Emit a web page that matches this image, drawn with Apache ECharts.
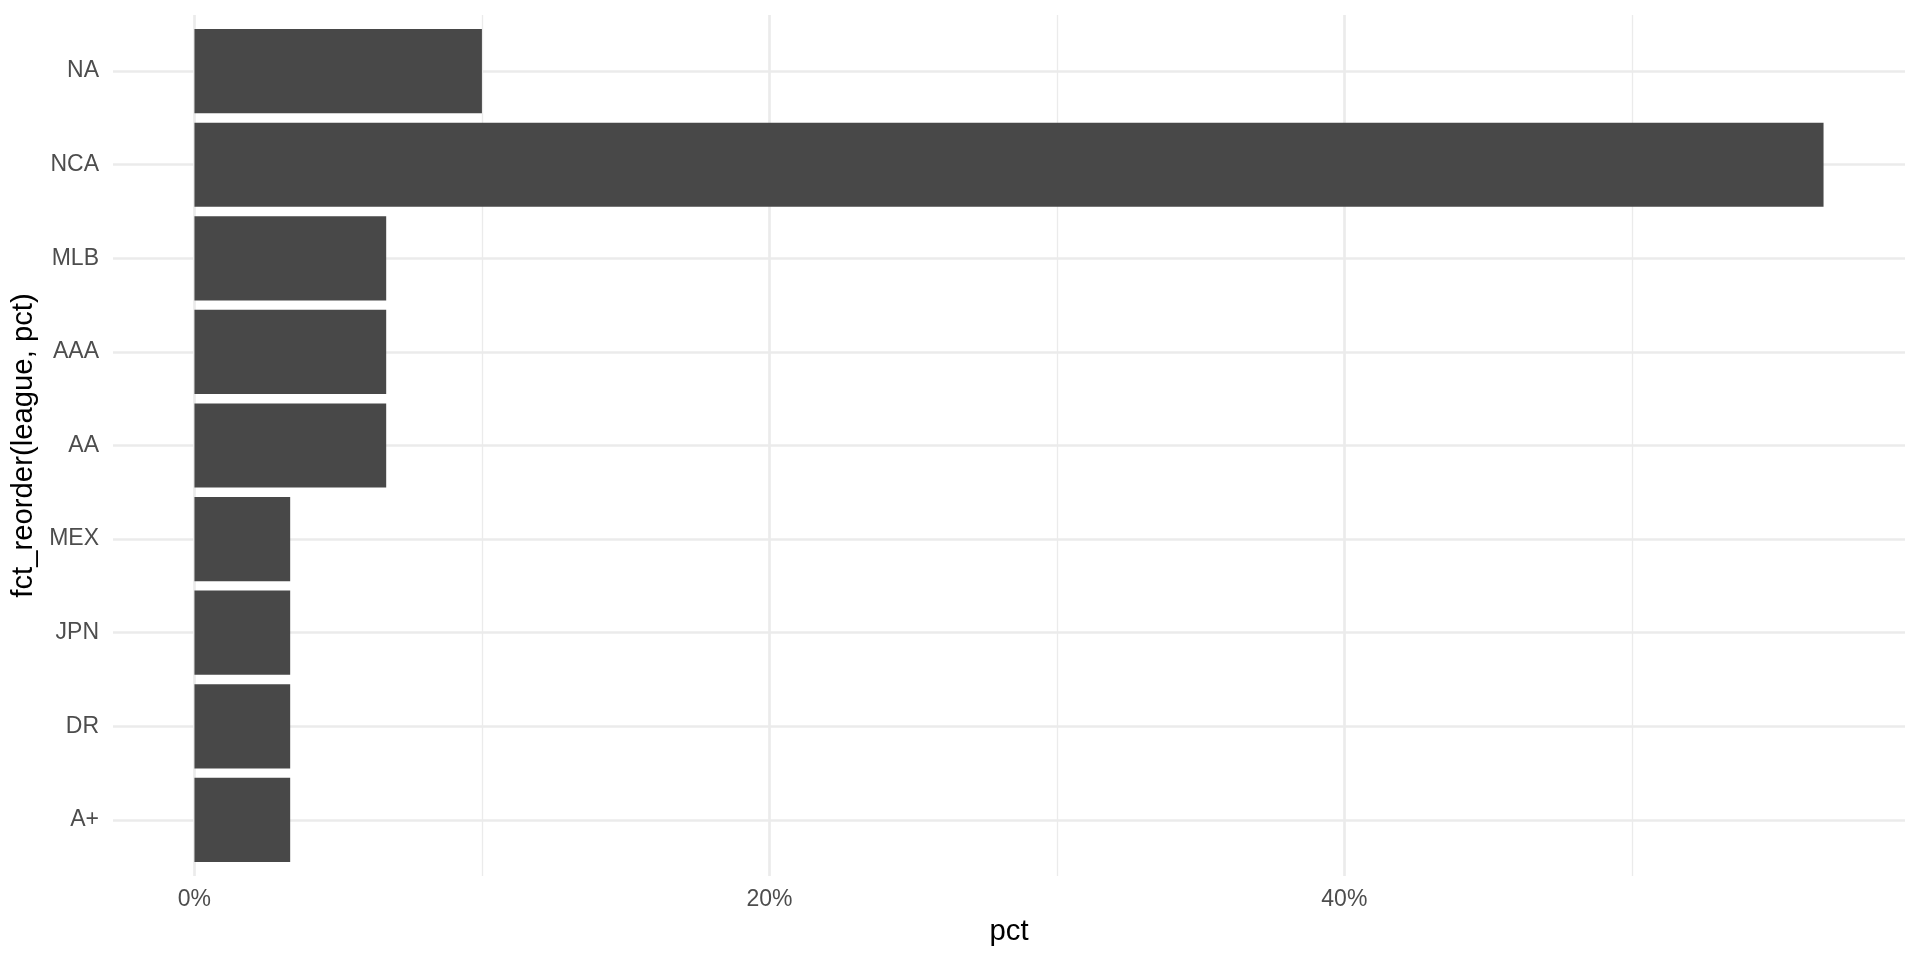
<!DOCTYPE html>
<html>
<head>
<meta charset="utf-8">
<script src="https://cdn.jsdelivr.net/npm/echarts@6/dist/echarts.min.js"></script>
<style>
  html, body { margin: 0; padding: 0; background: #ffffff; }
  #chart { width: 1920px; height: 960px; }
</style>
</head>
<body>
<div id="chart"></div>
<script>
// Categories listed top to bottom
const categories = ['NA', 'NCA', 'MLB', 'AAA', 'AA', 'MEX', 'JPN', 'DR', 'A+'];
// Percent values
const pctValues = [10, 56.67, 6.67, 6.67, 6.67, 3.33, 3.33, 3.33, 3.33];
const xTickValues = [0, 20, 40];
const xAxisTitle = 'pct';
const yAxisTitle = 'fct_reorder(league, pct)';

const FONT = '"Liberation Sans", Arial, Helvetica, sans-serif';
const GRID_COLOR = '#EBEBEB';
const MAJOR_W = 2.67;
const MINOR_W = 1.33;
const LABEL_SIZE = 23;
const TITLE_SIZE = 29.3;

// Panel geometry (ggplot-like expansion)
const panelTop = 15, panelBottom = 876, panelLeft = 113, panelRight = 1905;
const nCat = categories.length;
const band = (panelBottom - panelTop) / (nCat + 0.2);
const xMaxData = Math.max(...pctValues);
const pxPerUnit = (panelRight - panelLeft) / (1.1 * xMaxData);
const zeroX = panelLeft + 0.05 * xMaxData * pxPerUnit;
const axisMax = 60;
const rightEdge = zeroX + axisMax * pxPerUnit;

const chart = echarts.init(document.getElementById('chart'), null, { renderer: 'canvas' });

const option = {
  backgroundColor: '#ffffff',
  animation: false,
  grid: [
    // 0: horizontal gridlines at category centres, full panel width
    { left: panelLeft, right: 1920 - panelRight, top: panelTop + 0.6 * band, bottom: 960 - (panelBottom - 0.6 * band), containLabel: false },
    // 1: vertical gridlines + x labels, full panel height
    { left: zeroX, right: 1920 - rightEdge, top: panelTop, bottom: 960 - panelBottom, containLabel: false },
    // 2: bars
    { left: zeroX, right: 1920 - rightEdge, top: panelTop + 0.1 * band, bottom: 960 - (panelBottom - 0.1 * band), containLabel: false }
  ],
  xAxis: [
    {
      gridIndex: 0, type: 'value', min: 0, max: 1,
      name: xAxisTitle, nameLocation: 'middle', nameGap: 98,
      nameTextStyle: { fontFamily: FONT, fontSize: TITLE_SIZE, color: '#000000' },
      axisLine: { show: false }, axisTick: { show: false }, axisLabel: { show: false }, splitLine: { show: false }
    },
    {
      gridIndex: 1, type: 'value', min: 0, max: axisMax, interval: 20,
      axisLine: { show: false }, axisTick: { show: false },
      axisLabel: {
        show: true, margin: 12.5, color: '#4D4D4D', fontFamily: FONT, fontSize: LABEL_SIZE,
        showMaxLabel: false,
        formatter: function (v) { return xTickValues.indexOf(v) >= 0 ? v + '%' : ''; }
      },
      splitLine: { show: true, showMaxLine: false, lineStyle: { color: GRID_COLOR, width: MAJOR_W } },
      minorTick: { show: false, splitNumber: 2 },
      minorSplitLine: { show: true, lineStyle: { color: GRID_COLOR, width: MINOR_W } }
    },
    {
      gridIndex: 2, type: 'value', min: 0, max: axisMax, show: false,
      splitLine: { show: false }
    }
  ],
  yAxis: [
    {
      gridIndex: 0, type: 'value', min: 1, max: nCat, interval: 1,
      axisLine: { show: false }, axisTick: { show: false }, axisLabel: { show: false },
      splitLine: { show: true, lineStyle: { color: GRID_COLOR, width: MAJOR_W } }
    },
    {
      gridIndex: 1, type: 'value', show: false, splitLine: { show: false }
    },
    {
      gridIndex: 2, type: 'category', data: categories, inverse: true,
      name: yAxisTitle, nameLocation: 'middle', nameGap: 149, nameRotate: 90,
      nameTextStyle: { fontFamily: FONT, fontSize: TITLE_SIZE, color: '#000000' },
      axisLine: { show: false }, axisTick: { show: false },
      axisLabel: { margin: zeroX - 99, color: '#4D4D4D', fontFamily: FONT, fontSize: LABEL_SIZE, align: 'right' },
      splitLine: { show: false }
    }
  ],
  series: [
    {
      type: 'bar', xAxisIndex: 2, yAxisIndex: 2,
      data: pctValues,
      barCategoryGap: '10%',
      itemStyle: { color: '#484848' },
      silent: true
    }
  ]
};

chart.setOption(option);
</script>
</body>
</html>
